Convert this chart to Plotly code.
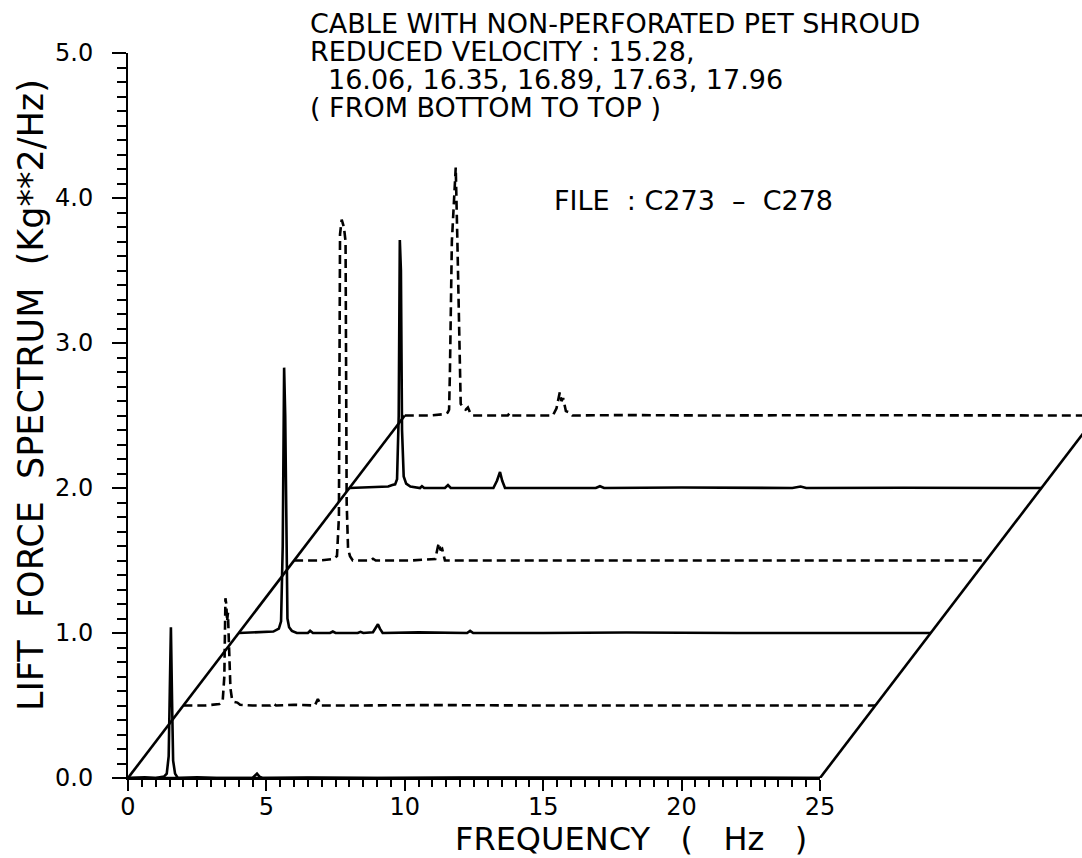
import plotly.graph_objects as go

# ---------------- data (local frequency in Hz, lift-force spectrum above each trace's baseline) ----
velocities = ["15.28", "16.06", "16.35", "16.89", "17.63", "17.96"]
line_styles = ["solid", "dash", "solid", "dash", "solid", "dash"]

freq_1528 = [0.0, 0.6, 1.0, 1.30, 1.40, 1.47, 1.51, 1.55, 1.59, 1.63, 1.70, 1.80, 2.5, 3.2,
             4.50, 4.60, 4.66, 4.75, 4.85, 6.5, 9.0, 12.0, 16.0, 20.0, 25.0]
psd_1528 = [0.0, 0.005, 0.0, 0.01, 0.03, 0.15, 0.6, 1.04, 0.55, 0.12, 0.03, 0.0, 0.005, 0.0,
            0.0, 0.015, 0.03, 0.01, 0.0, 0.003, 0.0, 0.003, 0.0, 0.002, 0.0]

freq_1606 = [0.0, 0.8, 1.30, 1.42, 1.48, 1.52, 1.55, 1.58, 1.61, 1.65, 1.70, 1.76, 1.84, 1.95,
             2.05, 2.5, 3.15, 3.24, 3.35, 4.0, 4.75, 4.86, 4.97, 6.0, 9.0, 13.0, 18.0, 25.0]
psd_1606 = [0.0, 0.0, 0.01, 0.03, 0.2, 0.74, 0.70, 0.58, 0.64, 0.45, 0.12, 0.04, 0.025, 0.02,
            0.005, 0.0, 0.0, 0.015, 0.0, 0.005, 0.0, 0.045, 0.0, 0.0, 0.003, 0.0, 0.0, 0.0]

freq_1635 = [0.0, 0.7, 1.25, 1.45, 1.53, 1.59, 1.64, 1.68, 1.72, 1.76, 1.82, 1.92, 2.1, 2.5,
             2.58, 2.68, 3.3, 3.4, 3.5, 4.3, 4.4, 4.5, 4.85, 4.97, 5.03, 5.10, 5.20, 6.5,
             8.25, 8.36, 8.47, 11.0, 14.0, 18.0, 22.0, 25.0]
psd_1635 = [0.0, 0.005, 0.01, 0.03, 0.08, 0.6, 1.83, 1.5, 0.5, 0.1, 0.04, 0.015, 0.0, 0.0,
            0.015, 0.0, 0.0, 0.01, 0.0, 0.0, 0.008, 0.0, 0.005, 0.04, 0.06, 0.03, 0.0, 0.004,
            0.0, 0.015, 0.0, 0.0, 0.003, 0.0, 0.002, 0.0]

freq_1689 = [0.0, 0.9, 1.40, 1.55, 1.62, 1.66, 1.72, 1.80, 1.86, 1.90, 1.95, 2.02, 2.12, 2.75,
             2.85, 2.95, 4.2, 5.10, 5.20, 5.24, 5.29, 5.35, 5.45, 7.0, 10.0, 14.0, 19.0, 25.0]
psd_1689 = [0.0, 0.0, 0.01, 0.03, 0.3, 2.25, 2.35, 2.30, 2.2, 0.4, 0.08, 0.03, 0.0, 0.0,
            0.012, 0.0, 0.0, 0.01, 0.1, 0.12, 0.07, 0.08, 0.0, 0.0, 0.003, 0.0, 0.0, 0.0]

freq_1763 = [0.0, 0.8, 1.40, 1.55, 1.65, 1.72, 1.78, 1.82, 1.86, 1.90, 1.96, 2.05, 2.2, 2.55,
             2.62, 2.70, 3.45, 3.56, 3.66, 5.20, 5.33, 5.44, 5.52, 5.62, 7.0, 8.9, 9.05, 9.2,
             12.0, 16.0, 16.3, 16.5, 20.0, 25.0]
psd_1763 = [0.0, 0.005, 0.01, 0.02, 0.025, 0.06, 0.5, 1.71, 1.5, 0.4, 0.08, 0.03, 0.01, 0.0,
            0.012, 0.0, 0.0, 0.02, 0.0, 0.0, 0.05, 0.11, 0.05, 0.0, 0.0, 0.0, 0.012, 0.0,
            0.003, 0.0, 0.01, 0.0, 0.002, 0.0]

freq_1796 = [0.0, 0.9, 1.45, 1.55, 1.60, 1.63, 1.70, 1.84, 1.90, 1.98, 2.02, 2.12, 2.20, 2.28,
             2.36, 2.45, 3.0, 3.72, 3.80, 3.88, 5.35, 5.48, 5.60, 5.66, 5.72, 5.82, 5.95, 6.05,
             8.0, 11.0, 15.0, 20.0, 25.0]
psd_1796 = [0.0, 0.0, 0.01, 0.02, 0.04, 0.3, 1.2, 1.71, 1.2, 0.3, 0.08, 0.05, 0.04, 0.055,
            0.02, 0.0, 0.0, 0.0, 0.02, 0.0, 0.0, 0.05, 0.16, 0.10, 0.12, 0.03, 0.02, 0.0,
            0.003, 0.0, 0.002, 0.0, 0.0]

freqs = [freq_1528, freq_1606, freq_1635, freq_1689, freq_1763, freq_1796]
psds = [psd_1528, psd_1606, psd_1635, psd_1689, psd_1763, psd_1796]

X_STEP = 2.0     # Hz shift per trace (waterfall)
Y_STEP = 0.5     # Kg**2/Hz shift per trace
F_MAX = 25.0

title_lines = ["CABLE WITH NON-PERFORATED PET SHROUD",
               "REDUCED VELOCITY : 15.28,",
               "16.06, 16.35, 16.89, 17.63, 17.96",
               "( FROM BOTTOM TO TOP )"]
file_label = "FILE\u00a0\u00a0:\u00a0C273\u00a0\u00a0\u2013\u00a0\u00a0C278"
x_title = "FREQUENCY\u00a0\u00a0\u00a0(\u00a0\u00a0\u00a0Hz\u00a0\u00a0\u00a0)"
y_title = "LIFT\u00a0\u00a0FORCE\u00a0\u00a0SPECTRUM\u00a0\u00a0(Kg**2/Hz)"

# ---------------- figure ----------------
W, H = 1082, 858
ML, MR, MT, MB = 128, 0, 53, 80
PX_PER_HZ = 27.68
X_FULL = (W - ML - MR) / PX_PER_HZ
FONT = "DejaVu Sans"
LW = 2.6

fig = go.Figure()

for i, (f, p) in enumerate(zip(freqs, psds)):
    fig.add_trace(go.Scatter(
        x=[v + X_STEP * i for v in f],
        y=[v + Y_STEP * i for v in p],
        mode="lines",
        line=dict(color="black", width=LW,
                  dash="9px,5px" if line_styles[i] == "dash" else "solid"),
        name="Vr = " + velocities[i],
        showlegend=False, hoverinfo="skip"))

n = len(freqs) - 1
# slanted edges of the waterfall
fig.add_trace(go.Scatter(x=[0, X_STEP * n], y=[0, Y_STEP * n], mode="lines",
                         line=dict(color="black", width=LW), showlegend=False, hoverinfo="skip"))
fig.add_trace(go.Scatter(x=[F_MAX, F_MAX + X_STEP * n], y=[0, Y_STEP * n], mode="lines",
                         line=dict(color="black", width=LW), showlegend=False, hoverinfo="skip"))
# frequency axis (0..25 Hz) on its own x-axis so ticks stop at 25
fig.add_trace(go.Scatter(x=[0, F_MAX], y=[0, 0], mode="lines", xaxis="x2", yaxis="y",
                         line=dict(color="black", width=LW), showlegend=False, hoverinfo="skip"))

fig.update_layout(
    width=W, height=H, autosize=False,
    margin=dict(l=ML, r=MR, t=MT, b=MB, pad=0, autoexpand=False),
    paper_bgcolor="white", plot_bgcolor="rgba(0,0,0,0)",
    font=dict(family=FONT, color="black"),
    xaxis=dict(range=[0, X_FULL], domain=[0, 1], visible=False, showgrid=False,
               zeroline=False, automargin=False),
    xaxis2=dict(range=[0, F_MAX], domain=[0, F_MAX / X_FULL], anchor="y", automargin=False,
                showgrid=False, zeroline=False, showline=True, linecolor="black", linewidth=2,
                tick0=0, dtick=5, ticks="outside", ticklen=11, tickwidth=2, tickcolor="black",
                ticklabelstandoff=-5,
                tickfont=dict(family=FONT, size=24, color="black"),
                minor=dict(tick0=0, dtick=0.5, ticks="outside", ticklen=7, tickwidth=2,
                           tickcolor="black", showgrid=False)),
    yaxis=dict(range=[0, 5.0], anchor="x", automargin=False, showgrid=False, zeroline=False,
               showline=True, linecolor="black", linewidth=2,
               tick0=0, dtick=1, tickformat=".1f",
               ticks="outside", ticklen=14, tickwidth=2, tickcolor="black",
               ticklabelstandoff=14,
               tickfont=dict(family=FONT, size=24, color="black"),
               minor=dict(tick0=0, dtick=0.1, ticks="outside", ticklen=9, tickwidth=2,
                          tickcolor="black", showgrid=False)),
)


def px_x(px):
    return (px - ML) / (W - ML - MR)


def px_y(py):
    return (H - MB - py) / (H - MT - MB)


annos = []
title_pos = [(308, 24), (308, 52), (326, 79), (308, 107)]
for txt, (px, py) in zip(title_lines, title_pos):
    annos.append(dict(text=txt, x=px_x(px), y=px_y(py), xref="paper", yref="paper",
                      xanchor="left", yanchor="middle", showarrow=False,
                      font=dict(family=FONT, size=27, color="black")))
annos.append(dict(text=file_label, x=px_x(552), y=px_y(200), xref="paper", yref="paper",
                  xanchor="left", yanchor="middle", showarrow=False,
                  font=dict(family=FONT, size=27, color="black")))
annos.append(dict(text=x_title, x=px_x(453), y=px_y(839), xref="paper", yref="paper",
                  xanchor="left", yanchor="middle", showarrow=False,
                  font=dict(family=FONT, size=32, color="black")))
annos.append(dict(text=y_title, x=px_x(31), y=px_y(395), xref="paper", yref="paper",
                  xanchor="center", yanchor="middle", showarrow=False, textangle=-90,
                  font=dict(family=FONT, size=35, color="black")))
fig.update_layout(annotations=annos)

fig.write_html("out.html", config={"responsive": False})
